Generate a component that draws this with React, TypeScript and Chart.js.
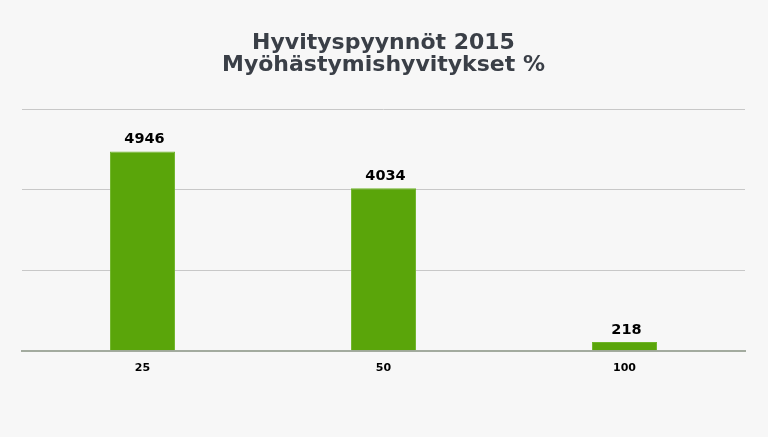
import React, { useEffect, useRef } from "react";
import { Chart, registerables } from "chart.js";

Chart.register(...registerables);

const categories: string[] = ["25", "50", "100"];
const values: number[] = [4946, 4034, 218];
const titleLines: string[] = ["Hyvityspyynnöt 2015", "Myöhästymishyvitykset %"];

const valueLabelPlugin = {
  id: "valueLabels",
  afterDatasetsDraw(chart: any) {
    const ctx = chart.ctx;
    const meta = chart.getDatasetMeta(0);
    ctx.save();
    ctx.font = "bold 14.5px 'DejaVu Sans'";
    ctx.fillStyle = "#000000";
    ctx.textAlign = "center";
    ctx.textBaseline = "alphabetic";
    meta.data.forEach((bar: any, i: number) => {
      ctx.fillText(String(values[i]), bar.x + 2, bar.y - 8);
    });
    ctx.restore();
  },
};

export default function App() {
  const ref = useRef<HTMLCanvasElement | null>(null);
  useEffect(() => {
    if (!ref.current) return;
    const chart = new Chart(ref.current, {
      type: "bar",
      data: {
        labels: categories,
        datasets: [
          {
            data: values,
            backgroundColor: "#5aa50a",
            borderColor: "#6fb52a",
            borderWidth: 1,
            barPercentage: 0.27,
            categoryPercentage: 1,
          },
        ],
      },
      options: {
        animation: false,
        responsive: false,
        maintainAspectRatio: false,
        layout: { padding: { left: 22, right: 23, top: 32, bottom: 59 } },
        plugins: {
          legend: { display: false },
          tooltip: { enabled: false },
          title: {
            display: true,
            text: titleLines,
            color: "#3a3f47",
            font: { family: "'DejaVu Sans'", size: 22, weight: "bold", lineHeight: 1.0 },
            padding: { top: 0, bottom: 33 },
          },
        },
        scales: {
          x: {
            grid: { display: false },
            border: { display: true, color: "#a3ab9f", width: 2 },
            ticks: {
              color: "#000000",
              font: { family: "'DejaVu Sans'", size: 11, weight: "bold" },
              padding: 3,
            },
          },
          y: {
            min: 0,
            max: 6000,
            ticks: { display: false, stepSize: 2000 },
            grid: { color: "#c8c8c8", drawTicks: false },
            border: { display: false },
            afterFit(scale: any) {
              scale.width = 0;
            },
          },
        },
      },
      plugins: [valueLabelPlugin],
    });
    return () => chart.destroy();
  }, []);
  return (
    <div style={{ position: "fixed", left: 0, top: 0, width: 768, height: 437, background: "#f7f7f7" }}>
      <canvas ref={ref} width={768} height={437} style={{ display: "block" }} />
    </div>
  );
}
